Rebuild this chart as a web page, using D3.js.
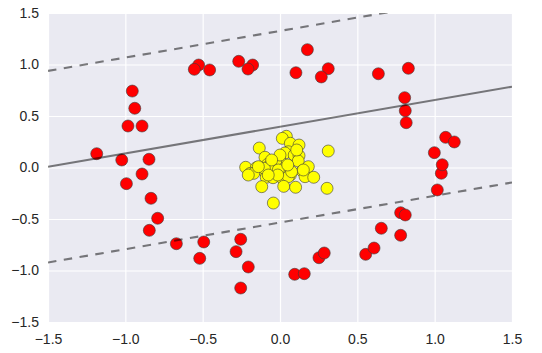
<!DOCTYPE html>
<html lang="en">
<head>
<meta charset="UTF-8">
<title>svc circles</title>
<script src="https://cdn.jsdelivr.net/npm/d3@7"></script>
<style>
	body { margin: 0; background: #fff; }
	text { font-family: "Liberation Sans", Arial, sans-serif; }
</style>
</head>
<body>
<script>
	// outer ring (class 0, red)
	var redX = [-0.955, -0.939, -0.983, -0.892, -1.185, -1.023, -0.847, -0.892, -0.993, -0.834,
		-0.791, -0.845, -0.670, -0.519, -0.493, -0.254, -0.284, -0.205, -0.254, 0.095,
		0.157, 0.252, 0.286, 0.554, 0.608, 0.655, 0.780, 0.780, 0.810, 1.017,
		1.043, 1.049, 0.998, 1.071, 1.127, 0.816, 0.810, 0.806, 0.830, 0.636,
		0.312, 0.267, 0.103, 0.177, -0.177, -0.207, -0.267, -0.455, -0.526, -0.554];
	var redY = [0.742, 0.575, 0.403, 0.403, 0.134, 0.073, 0.080, -0.063, -0.157, -0.299,
		-0.493, -0.610, -0.740, -0.882, -0.723, -0.697, -0.817, -0.966, -1.170, -1.037,
		-1.031, -0.876, -0.830, -0.843, -0.782, -0.590, -0.658, -0.439, -0.461, -0.218,
		-0.056, 0.027, 0.144, 0.293, 0.248, 0.435, 0.551, 0.678, 0.963, 0.910,
		0.959, 0.879, 0.920, 1.144, 0.995, 0.956, 1.031, 0.947, 0.995, 0.953];

	// inner blob (class 1, yellow)
	var yellowX = [0.041, 0.015, 0.067, 0.123, -0.134, 0.312, 0.054, 0.032, 0.092, 0.123,
		-0.097, -0.002, 0.118, -0.028, -0.080, -0.222, -0.153, 0.183, 0.028, 0.144,
		-0.041, -0.097, -0.192, -0.170, 0.067, 0.041, 0.162, 0.218, -0.089, -0.045,
		0.015, 0.054, -0.118, 0.024, 0.101, 0.304, -0.043, -0.205, -0.065, -0.011,
		0.075, -0.101, 0.000, 0.108, 0.151, -0.015, -0.054, 0.050, -0.140, -0.076];
	var yellowY = [0.303, 0.283, 0.235, 0.218, 0.189, 0.160, 0.153, 0.141, 0.121, 0.115,
		0.099, 0.076, 0.063, 0.044, 0.031, 0.002, -0.002, 0.008, -0.008, -0.034,
		-0.034, -0.041, -0.057, -0.057, -0.073, -0.057, -0.089, -0.095, -0.095, -0.099,
		-0.105, -0.089, -0.186, -0.183, -0.192, -0.202, -0.345, -0.073, 0.024, -0.024,
		-0.041, -0.008, 0.121, 0.170, -0.024, -0.073, 0.073, 0.024, 0.008, -0.073];

	// decision boundary y = intercept + slope * x, margins at +/- offset
	var boundarySlope = 0.259;
	var boundaryIntercept = 0.396;
	var marginOffsets = [-0.93, 0, 0.93];

	var ticks = [-1.5, -1.0, -0.5, 0.0, 0.5, 1.0, 1.5];

	var width = 542,
		height = 353;
	var padding = { top: 13, bottom: 31, left: 48, right: 30 };

	var svg = d3.select('body').append('svg')
		.attr('width', width)
		.attr('height', height);

	var xScale = d3.scaleLinear()
		.domain([-1.5, 1.5])
		.range([padding.left, width - padding.right]);
	var yScale = d3.scaleLinear()
		.domain([-1.5, 1.5])
		.range([height - padding.bottom, padding.top]);

	svg.append('rect')
		.attr('x', xScale(-1.5))
		.attr('y', yScale(1.5))
		.attr('width', xScale(1.5) - xScale(-1.5))
		.attr('height', yScale(-1.5) - yScale(1.5))
		.attr('fill', '#eaeaf2');

	svg.append('clipPath')
		.attr('id', 'plotClip')
		.append('rect')
		.attr('x', xScale(-1.5))
		.attr('y', yScale(1.5))
		.attr('width', xScale(1.5) - xScale(-1.5))
		.attr('height', yScale(-1.5) - yScale(1.5));

	function drawAxis() {
		var fmt = d3.format('.1f');
		var xAxis = d3.axisBottom(xScale).tickValues(ticks).tickFormat(fmt)
			.tickSize(-(yScale(-1.5) - yScale(1.5))).tickPadding(12);
		var yAxis = d3.axisLeft(yScale).tickValues(ticks).tickFormat(fmt)
			.tickSize(-(xScale(1.5) - xScale(-1.5))).tickPadding(9);

		var gx = svg.append('g')
			.attr('transform', `translate(0,${yScale(-1.5)})`)
			.call(xAxis);
		var gy = svg.append('g')
			.attr('transform', `translate(${xScale(-1.5)},0)`)
			.call(yAxis);

		[gx, gy].forEach(function (g) {
			g.select('.domain').remove();
			g.selectAll('line').attr('stroke', '#ffffff').attr('stroke-width', 1.2);
			g.selectAll('text')
				.attr('fill', '#262626')
				.style('font-size', '14px');
		});
		gy.selectAll('text').attr('dy', '0.3em');
	}

	function drawPoints() {
		var pts = [];
		redX.forEach((x, i) => pts.push({ x: x, y: redY[i], c: '#ff0000' }));
		yellowX.forEach((x, i) => pts.push({ x: x, y: yellowY[i], c: '#ffff00' }));

		svg.append('g')
			.attr('clip-path', 'url(#plotClip)')
			.selectAll('circle')
			.data(pts)
			.enter()
			.append('circle')
			.attr('cx', d => xScale(d.x))
			.attr('cy', d => yScale(d.y))
			.attr('r', 6)
			.attr('fill', d => d.c)
			.attr('stroke', '#3a3a3a')
			.attr('stroke-width', 0.6);
	}

	function drawBoundary() {
		var line = d3.line()
			.x(d => xScale(d[0]))
			.y(d => yScale(d[1]));

		svg.append('g')
			.attr('clip-path', 'url(#plotClip)')
			.selectAll('path')
			.data(marginOffsets)
			.enter()
			.append('path')
			.attr('d', off => line([-1.5, 1.5].map(x => [x, boundaryIntercept + off + boundarySlope * x])))
			.attr('fill', 'none')
			.attr('stroke', '#000')
			.attr('stroke-opacity', 0.5)
			.attr('stroke-width', 2.1)
			.attr('stroke-dasharray', off => off === 0 ? null : '8.5,7.5');
	}

	drawAxis();
	drawPoints();
	drawBoundary();
</script>
</body>
</html>
